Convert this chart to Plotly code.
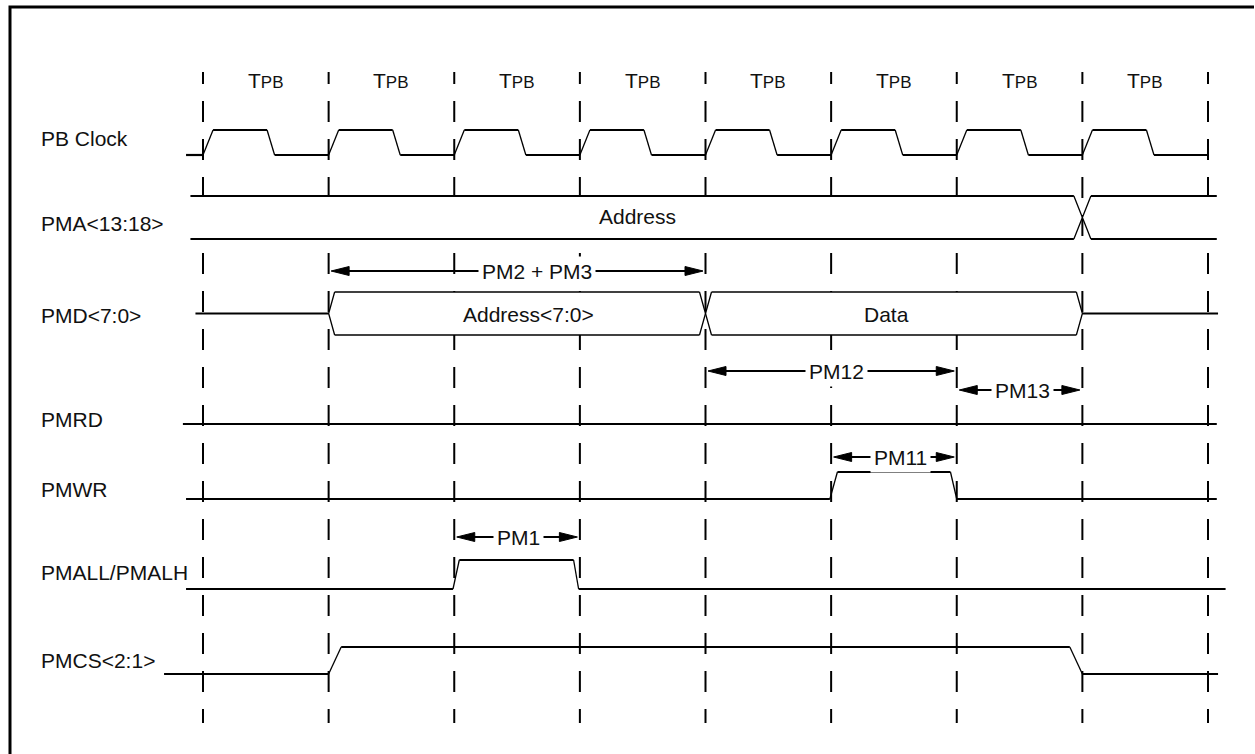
import plotly.graph_objects as go

W, H = 1255, 754

# ---------------- data (time in TPB units) ----------------
period_edges = [0, 1, 2, 3, 4, 5, 6, 7, 8]
period_centers = [0.5, 1.5, 2.5, 3.5, 4.5, 5.5, 6.5, 7.5]
period_label = "T<span style='font-size:17px'>PB</span>"

signal_names = ["PB Clock", "PMA&lt;13:18&gt;", "PMD&lt;7:0&gt;", "PMRD",
                "PMWR", "PMALL/PMALH", "PMCS&lt;2:1&gt;"]

clock_t = [-0.135, 0.00, 0.08, 0.51, 0.57,
           1.00, 1.08, 1.51, 1.57,
           2.00, 2.08, 2.51, 2.57,
           3.00, 3.08, 3.51, 3.57,
           4.00, 4.08, 4.51, 4.57,
           5.00, 5.08, 5.51, 5.57,
           6.00, 6.08, 6.51, 6.57,
           7.00, 7.08, 7.51, 7.57, 8.00]
clock_v = [0, 0, 1, 1, 0,
           0, 1, 1, 0,
           0, 1, 1, 0,
           0, 1, 1, 0,
           0, 1, 1, 0,
           0, 1, 1, 0,
           0, 1, 1, 0,
           0, 1, 1, 0, 0]

pmrd_t = [-0.16, 8.07]
pmrd_v = [0, 0]
pmwr_t = [-0.135, 4.99, 5.05, 5.95, 6.00, 8.07]
pmwr_v = [0, 0, 1, 1, 0, 0]
pmall_t = [-0.135, 1.99, 2.04, 2.95, 2.99, 8.14]
pmall_v = [0, 0, 1, 1, 0, 0]
pmcs_t = [-0.31, 1.00, 1.10, 6.90, 7.00, 8.08]
pmcs_v = [0, 0, 1, 1, 0, 0]

pma_bounds = [-0.10, 7.00, 8.07]
pma_values = ["Address", ""]
pmd_idle = [-0.06, 8.08]
pmd_bounds = [1.00, 4.00, 7.00]
pmd_values = ["Address&lt;7:0&gt;", "Data"]

arrow_labels = ["PM2 + PM3", "PM12", "PM13", "PM11", "PM1"]
arrow_from = [1, 4, 6, 5, 2]
arrow_to = [4, 6, 7, 6, 3]

# ---------------- layout constants ----------------
PX_PER_T = 125.625
X0_PX = 203.0
def t_of_px(px):
    return (px - X0_PX) / PX_PER_T
def dt(px):
    return px / PX_PER_T

FONT = "Liberation Sans, Arial, sans-serif"
TXT = "#111111"
FS = 21

label_y = [138, 223, 315, 419, 489, 572, 660]
row_low = {"clock": 155, "pmrd": 424, "pmwr": 499, "pmall": 589, "pmcs": 674}
row_high = {"clock": 130, "pmrd": 424, "pmwr": 472, "pmall": 560, "pmcs": 647}
PMA_TOP, PMA_BOT = 196, 239
PMD_TOP, PMD_BOT = 292, 335
arrow_y = [271, 371, 390, 457, 537]
arrow_text_t = [2.66, 5.04, 6.52, 5.55, 2.51]
pma_text_t = [3.46]
pmd_text_t = [2.59, 5.44]

fig = go.Figure()
shapes = []
annotations = []

# dashed period boundaries
for e in period_edges:
    shapes.append(dict(type="line", xref="x", yref="y", x0=e, x1=e, y0=101, y1=723,
                       line=dict(color="black", width=2, dash="21px,17px"), layer="below"))
    shapes.append(dict(type="line", xref="x", yref="y", x0=e, x1=e, y0=72, y1=84,
                       line=dict(color="black", width=2), layer="below"))

# period labels
for c in period_centers:
    annotations.append(dict(x=c, y=80, xref="x", yref="y", text=period_label, showarrow=False,
                            font=dict(family=FONT, size=FS, color=TXT),
                            xanchor="center", yanchor="middle"))

# signal labels
for name, yy in zip(signal_names, label_y):
    annotations.append(dict(x=39 / W, y=yy, xref="paper", yref="y", text=name, showarrow=False,
                            font=dict(family=FONT, size=FS, color=TXT),
                            xanchor="left", yanchor="middle"))


def add_signal(ts, vs, row):
    hx, hy, ex, ey = [], [], [], []
    for i in range(len(ts) - 1):
        y0 = row_high[row] if vs[i] else row_low[row]
        y1 = row_high[row] if vs[i + 1] else row_low[row]
        if vs[i] == vs[i + 1]:
            hx += [ts[i], ts[i + 1], None]
            hy += [y0, y1, None]
        else:
            ex += [ts[i], ts[i + 1], None]
            ey += [y0, y1, None]
    fig.add_trace(go.Scatter(x=hx, y=hy, mode="lines", line=dict(color="black", width=2.2),
                             hoverinfo="skip"))
    if ex:
        fig.add_trace(go.Scatter(x=ex, y=ey, mode="lines", line=dict(color="black", width=1.3),
                                 hoverinfo="skip"))


def add_bus(bounds, top, bot, hw, open_left, open_right, straight_w):
    mid = (top + bot) / 2
    n = len(bounds) - 1
    fx, fy, sx, sy, ex, ey = [], [], [], [], [], []
    for i in range(n):
        s, e = bounds[i], bounds[i + 1]
        lo = open_left and i == 0
        ro = open_right and i == n - 1
        s_in = s if lo else s + hw
        e_in = e if ro else e - hw
        poly = []
        if lo:
            poly += [(s, bot), (s, top)]
        else:
            poly += [(s, mid), (s_in, top)]
        poly += [(e_in, top)]
        if ro:
            poly += [(e, bot)]
        else:
            poly += [(e, mid), (e_in, bot)]
        poly += [(s_in, bot)]
        fx += [p[0] for p in poly] + [poly[0][0], None]
        fy += [p[1] for p in poly] + [poly[0][1], None]
        sx += [s_in, e_in, None, s_in, e_in, None]
        sy += [top, top, None, bot, bot, None]
        if not lo:
            ex += [s_in, s, s_in, None]
            ey += [top, mid, bot, None]
        if not ro:
            ex += [e_in, e, e_in, None]
            ey += [top, mid, bot, None]
    fig.add_trace(go.Scatter(x=fx, y=fy, mode="lines", fill="toself", fillcolor="white",
                             line=dict(width=0, color="white"), hoverinfo="skip"))
    fig.add_trace(go.Scatter(x=sx, y=sy, mode="lines", line=dict(color="black", width=straight_w),
                             hoverinfo="skip"))
    fig.add_trace(go.Scatter(x=ex, y=ey, mode="lines", line=dict(color="black", width=1.3),
                             hoverinfo="skip"))


# PB clock
add_signal(clock_t, clock_v, "clock")

# PMA bus
add_bus(pma_bounds, PMA_TOP, PMA_BOT, dt(8.5), True, True, 2.2)
for txt, tt in zip(pma_values, pma_text_t):
    annotations.append(dict(x=tt, y=(PMA_TOP + PMA_BOT) / 2 - 1, xref="x", yref="y", text=txt,
                            showarrow=False, font=dict(family=FONT, size=FS, color=TXT)))

# PMD bus
pmd_mid = (PMD_TOP + PMD_BOT) / 2
fig.add_trace(go.Scatter(x=[pmd_idle[0], pmd_bounds[0], None, pmd_bounds[-1], pmd_idle[1]],
                         y=[pmd_mid, pmd_mid, None, pmd_mid, pmd_mid], mode="lines",
                         line=dict(color="black", width=2.2), hoverinfo="skip"))
add_bus(pmd_bounds, PMD_TOP, PMD_BOT, dt(6), False, False, 1.3)
for txt, tt in zip(pmd_values, pmd_text_t):
    annotations.append(dict(x=tt, y=pmd_mid + 1, xref="x", yref="y", text=txt,
                            showarrow=False, font=dict(family=FONT, size=FS, color=TXT)))

# control signals
add_signal(pmrd_t, pmrd_v, "pmrd")
add_signal(pmwr_t, pmwr_v, "pmwr")
add_signal(pmall_t, pmall_v, "pmall")
add_signal(pmcs_t, pmcs_v, "pmcs")

# timing arrows
lx, ly, hx, hy = [], [], [], []
inset = dt(2.5)
head_l = dt(18)
head_h = 4.5
for a, b, yy in zip(arrow_from, arrow_to, arrow_y):
    l_tip = a + inset
    r_tip = b - inset
    lx += [l_tip + head_l * 0.5, r_tip - head_l * 0.5, None]
    ly += [yy, yy, None]
    hx += [l_tip, l_tip + head_l, l_tip + head_l, l_tip, None]
    hy += [yy, yy - head_h, yy + head_h, yy, None]
    hx += [r_tip, r_tip - head_l, r_tip - head_l, r_tip, None]
    hy += [yy, yy - head_h, yy + head_h, yy, None]
fig.add_trace(go.Scatter(x=lx, y=ly, mode="lines", line=dict(color="black", width=2),
                         hoverinfo="skip"))
fig.add_trace(go.Scatter(x=hx, y=hy, mode="lines", fill="toself", fillcolor="black",
                         line=dict(color="black", width=1), hoverinfo="skip"))
for txt, tt, yy in zip(arrow_labels, arrow_text_t, arrow_y):
    annotations.append(dict(x=tt, y=yy, xref="x", yref="y", text=txt, showarrow=False,
                            bgcolor="white", borderpad=3,
                            font=dict(family=FONT, size=FS, color=TXT)))

# frame (left and top edges only)
shapes.append(dict(type="path", xref="paper", yref="y",
                   path="M %f,%f L %f,%f L %f,%f" % (10 / W, H + 5, 10 / W, 7, 1254.0 / W, 7),
                   line=dict(color="black", width=3), layer="above"))

fig.update_layout(
    width=W, height=H,
    margin=dict(l=0, r=0, t=0, b=0),
    paper_bgcolor="white", plot_bgcolor="white",
    showlegend=False, hovermode=False,
    xaxis=dict(range=[t_of_px(0), t_of_px(W)], visible=False, fixedrange=True),
    yaxis=dict(range=[H, 0], visible=False, fixedrange=True),
    shapes=shapes, annotations=annotations,
)

fig.write_html("out.html", config={"displayModeBar": False},
               post_script="document.body.style.margin='0px';document.body.style.overflow='hidden';")
